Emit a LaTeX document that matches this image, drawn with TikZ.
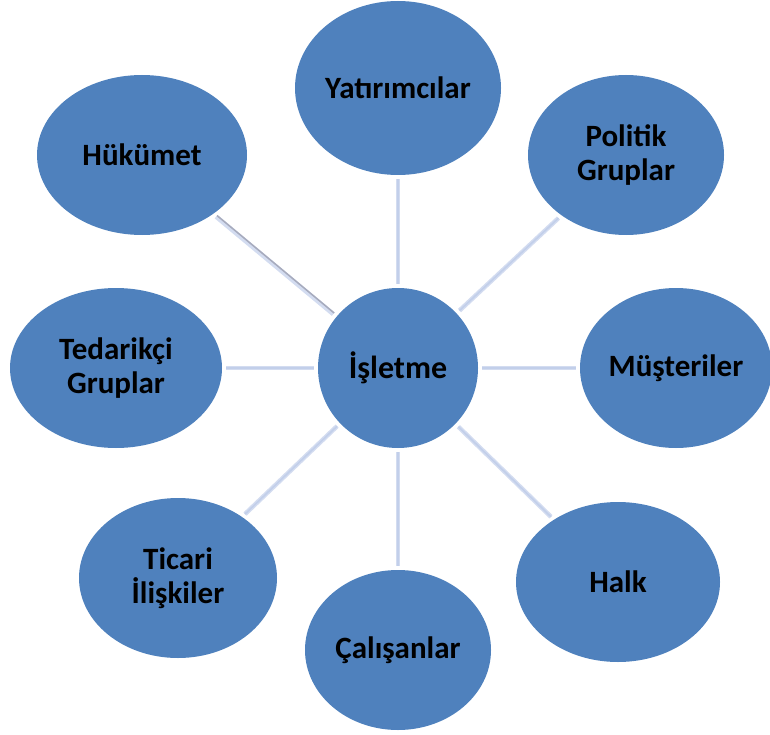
\documentclass[tikz,border=0pt]{standalone}
\usepackage{fontspec}
\setmainfont{Carlito}
\usetikzlibrary{shapes.geometric}
\definecolor{ovalblue}{HTML}{4F81BD}
\definecolor{connlight}{HTML}{D3DCF0}
\definecolor{conncore}{HTML}{C2CFEA}
\definecolor{connshadow}{HTML}{A7ABBD}
\tikzset{
  oval/.style={ellipse, fill=ovalblue, inner sep=0pt, align=center, text=black,
    font=\fontsize{31}{34}\selectfont\bfseries},
  conn/.style={draw=connlight, line width=4.5pt, shorten <=4pt, shorten >=4pt},
  conncore/.style={draw=conncore, line width=1.6pt, shorten <=4pt, shorten >=4pt},
  connshade/.style={draw=connshadow, line width=1.5pt, shorten <=4pt, shorten >=4pt}
}
\begin{document}
\begin{tikzpicture}[x=1pt,y=-1pt]
\useasboundingbox (0,0) rectangle (770,735);
\node[oval, minimum width=160pt, minimum height=160pt, font=\fontsize{32}{36}\selectfont\bfseries] (isletme) at (398,368) {İşletme};
\node[oval, minimum width=206pt, minimum height=174pt] (yatirim) at (398,88) {Yatırımcılar};
\node[oval, minimum width=210pt, minimum height=160pt] (hukumet) at (142,155) {Hükümet};
\node[oval, minimum width=196pt, minimum height=160pt] (politik) at (626,155) {Politik\\Gruplar};
\node[oval, minimum width=212pt, minimum height=160pt] (tedarik) at (116,368) {Tedarikçi\\Gruplar};
\node[oval, minimum width=192pt, minimum height=160pt] (musteri) at (676,368) {Müşteriler};
\node[oval, minimum width=198pt, minimum height=160pt] (ticari) at (178,578) {Ticari\\İlişkiler};
\node[oval, minimum width=186pt, minimum height=160pt] (calisan) at (398,650) {Çalışanlar};
\node[oval, minimum width=204pt, minimum height=160pt] (halk) at (618,582) {Halk};
\foreach \n in {yatirim,politik,tedarik,musteri,ticari,calisan,halk}{
  \draw[conn] (\n) -- (isletme);
  \draw[conncore] (\n) -- (isletme);
}
\draw[conn] (hukumet) -- (isletme);
\draw[connshade, transform canvas={xshift=0.9pt,yshift=1.1pt}] (hukumet) -- (isletme);
\end{tikzpicture}
\end{document}
